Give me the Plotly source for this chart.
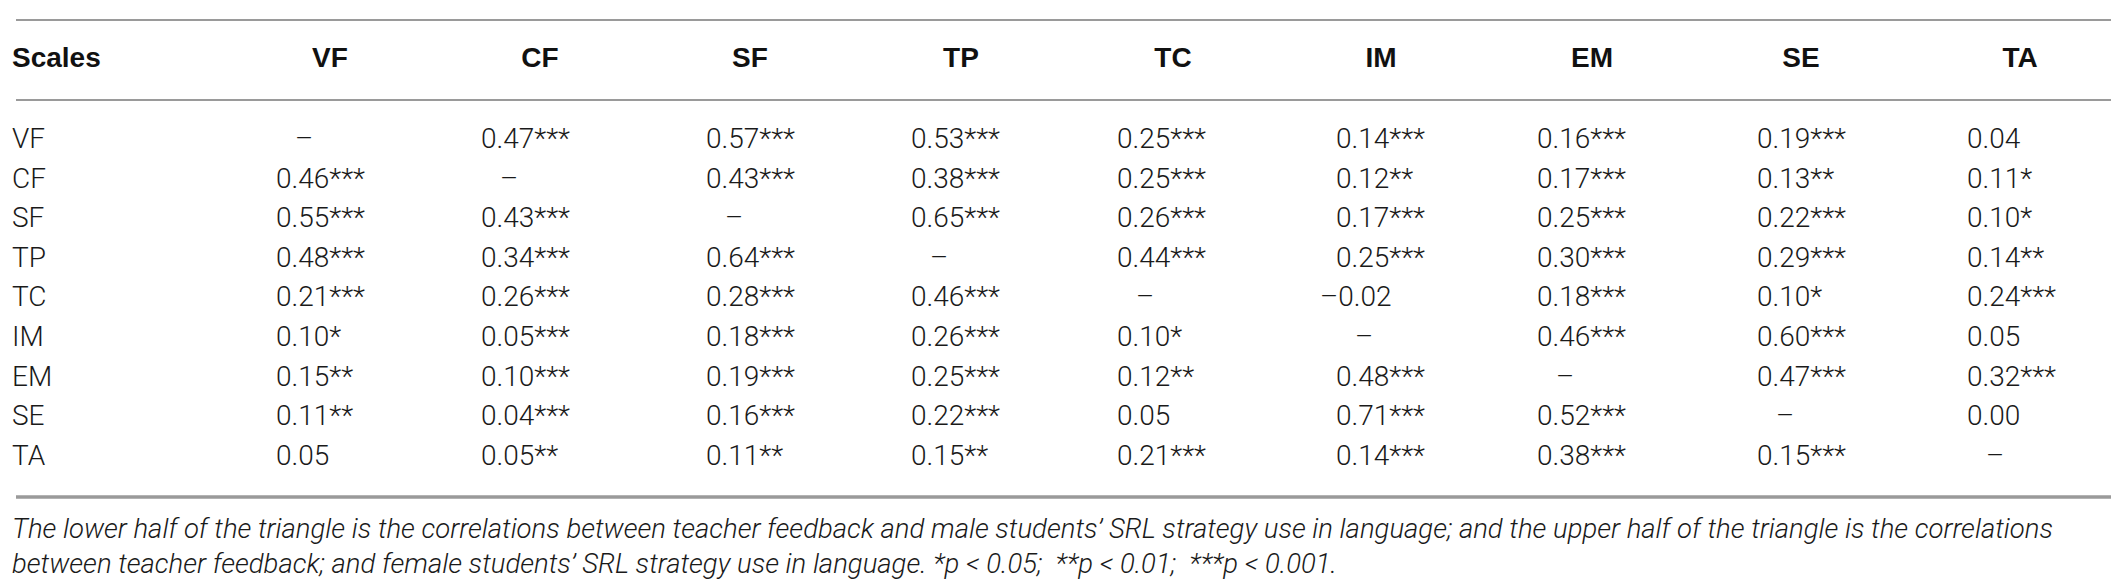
import plotly.graph_objects as go

# ---------------------------------------------------------------------------
# table data
# ---------------------------------------------------------------------------
scales = ["VF", "CF", "SF", "TP", "TC", "IM", "EM", "SE", "TA"]
header_first = "Scales"

row_VF = ["–", "0.47***", "0.57***", "0.53***", "0.25***", "0.14***", "0.16***", "0.19***", "0.04"]
row_CF = ["0.46***", "–", "0.43***", "0.38***", "0.25***", "0.12**", "0.17***", "0.13**", "0.11*"]
row_SF = ["0.55***", "0.43***", "–", "0.65***", "0.26***", "0.17***", "0.25***", "0.22***", "0.10*"]
row_TP = ["0.48***", "0.34***", "0.64***", "–", "0.44***", "0.25***", "0.30***", "0.29***", "0.14**"]
row_TC = ["0.21***", "0.26***", "0.28***", "0.46***", "–", "–0.02", "0.18***", "0.10*", "0.24***"]
row_IM = ["0.10*", "0.05***", "0.18***", "0.26***", "0.10*", "–", "0.46***", "0.60***", "0.05"]
row_EM = ["0.15**", "0.10***", "0.19***", "0.25***", "0.12**", "0.48***", "–", "0.47***", "0.32***"]
row_SE = ["0.11**", "0.04***", "0.16***", "0.22***", "0.05", "0.71***", "0.52***", "–", "0.00"]
row_TA = ["0.05", "0.05**", "0.11**", "0.15**", "0.21***", "0.14***", "0.38***", "0.15***", "–"]
rows = [row_VF, row_CF, row_SF, row_TP, row_TC, row_IM, row_EM, row_SE, row_TA]

footnote_1 = ("The lower half of the triangle is the correlations between teacher feedback and male "
              "students’ SRL strategy use in language; and the upper half of the triangle is the correlations")
footnote_2 = ("between teacher feedback; and female students’ SRL strategy use in language. "
              "*p < 0.05;  **p < 0.01;  ***p < 0.001.")

# ---------------------------------------------------------------------------
# layout (pixel units of the 2119 x 580 page)
# ---------------------------------------------------------------------------
W, H = 2119, 580
LEFT = 8
RIGHT = 2110
PAD = 4          # plotly leaves a small gap for "right" text positions
col_center = [322, 532, 742, 953, 1165, 1373, 1584, 1793, 2012]
col_left = [272, 477, 702, 907, 1113, 1332, 1533, 1753, 1963]
HEAD_Y = 52
ROW0_Y = 133
ROW_STEP = 39.6
LINE_TOP, LINE_HEAD, LINE_BOT = 12, 92, 489
FOOT_Y = [523, 558]
DASH_DX = 24
MINUS_DX = 16

VAL_FONT = dict(family="Roboto", size=28, color="#1a1a1a", weight=300)
HEAD_FONT = dict(family="Liberation Sans, Arial, sans-serif", size=28, color="#111111", weight="bold")
FOOT_FONT = dict(family="Roboto", size=27.5, color="#1a1a1a", weight=300, style="italic")

fig = go.Figure()

# header
fig.add_trace(go.Scatter(
    x=[LEFT - PAD], y=[HEAD_Y], mode="text", text=[header_first],
    textposition="middle right", textfont=HEAD_FONT, hoverinfo="skip", showlegend=False))
fig.add_trace(go.Scatter(
    x=col_center, y=[HEAD_Y] * len(scales), mode="text", text=scales,
    textposition="middle center", textfont=HEAD_FONT, hoverinfo="skip", showlegend=False))

# row labels
row_y = [ROW0_Y + i * ROW_STEP for i in range(len(scales))]
fig.add_trace(go.Scatter(
    x=[LEFT - PAD] * len(scales), y=row_y, mode="text", text=scales,
    textposition="middle right", textfont=VAL_FONT, hoverinfo="skip", showlegend=False))

# cells
xs, ys, txt, pos = [], [], [], []
for i, r in enumerate(rows):
    for j, v in enumerate(r):
        if v == "–":
            xs.append(col_left[j] + DASH_DX)
            pos.append("middle center")
        elif v.startswith("–"):
            xs.append(col_left[j] - MINUS_DX - PAD)
            pos.append("middle right")
        else:
            xs.append(col_left[j] - PAD)
            pos.append("middle right")
        ys.append(row_y[i])
        txt.append(v)
fig.add_trace(go.Scatter(
    x=xs, y=ys, mode="text", text=txt, textposition=pos,
    textfont=VAL_FONT, hoverinfo="skip", showlegend=False))

# footnote
fig.add_trace(go.Scatter(
    x=[LEFT - PAD, LEFT - PAD], y=FOOT_Y, mode="text", text=[footnote_1, footnote_2],
    textposition="middle right", textfont=FOOT_FONT, hoverinfo="skip", showlegend=False))

# rules
for yy, lw in [(LINE_TOP, 2), (LINE_HEAD, 2), (LINE_BOT, 3.5)]:
    fig.add_shape(type="line", x0=LEFT, x1=RIGHT, y0=yy, y1=yy,
                  line=dict(color="#9a9a9a", width=lw), layer="below")

fig.update_layout(
    width=W, height=H,
    margin=dict(l=0, r=0, t=0, b=0),
    paper_bgcolor="white", plot_bgcolor="white",
    xaxis=dict(range=[0, W], visible=False, fixedrange=True),
    yaxis=dict(range=[H, 0], visible=False, fixedrange=True),
)

fig.write_html("out.html")
